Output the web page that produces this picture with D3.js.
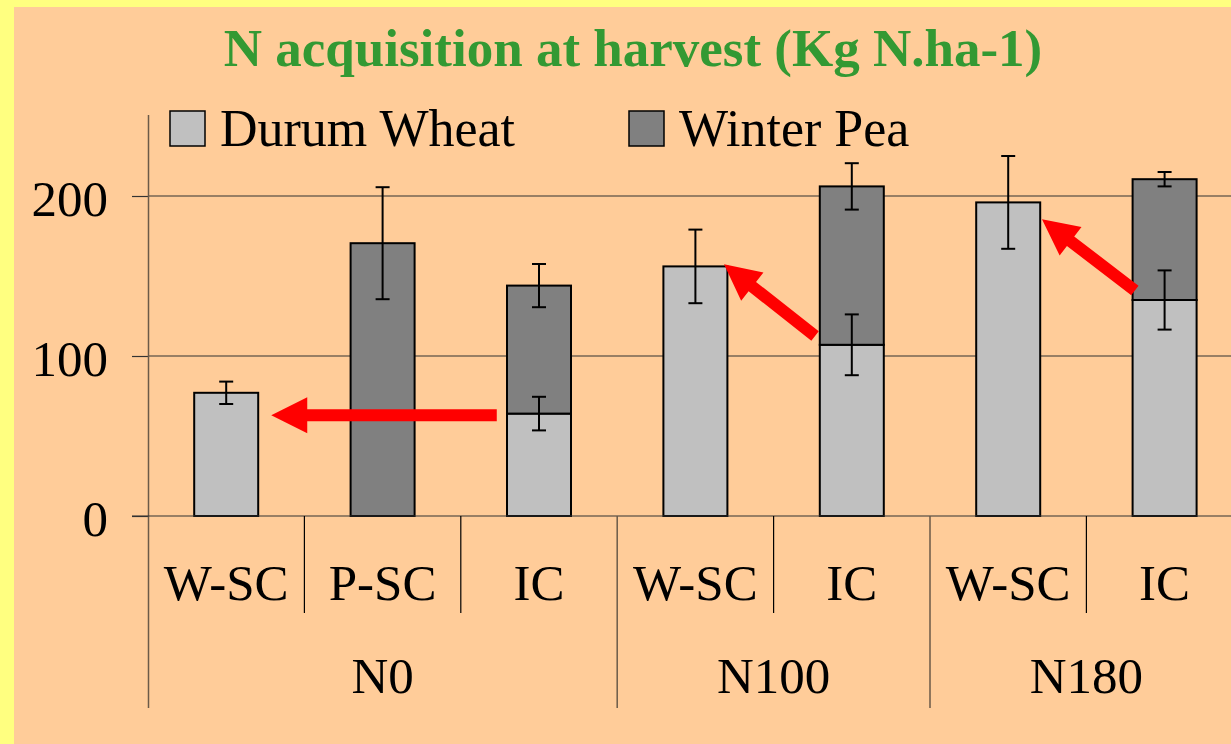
<!DOCTYPE html>
<html>
<head>
<meta charset="utf-8">
<script src="https://cdn.jsdelivr.net/npm/d3@7"></script>
<style>
  body{margin:0;background:#ffff80;}
  svg{display:block;}
  text{font-family:"Liberation Serif","Times New Roman",serif;fill:#000;}
</style>
</head>
<body>
<svg id="chart" width="1231" height="744"></svg>
<script>
// chart values
const title="N acquisition at harvest (Kg N.ha-1)";
const groups=["N0","N100","N180"];
const treatments=["W-SC","P-SC","IC","W-SC","IC","W-SC","IC"];
const treatmentGroup=["N0","N0","N0","N100","N100","N180","N180"];
const wheat=[77,0,64,156,107,196,135];
const wheatErr=[7,null,10.5,23,19,29,18.5];
const pea=[0,170.5,80,0,99,0,75.5];
const peaErr=[null,35,13.5,null,14.5,null,4.5];
const yTicks=[0,100,200];
const seriesNames=["Durum Wheat","Winter Pea"];
const seriesColors=["#c0c0c0","#808080"];
// arrows: [treatment index, offset in steps, value]
const arrowFrom=[[2,-0.27,63],[4,-0.235,112.5],[6,-0.19,141]];
const arrowTo=[[0,0.288,63],[3,0.183,157.3],[5,0.216,185.4]];

const serif="'Liberation Serif','Times New Roman',serif";
const svg=d3.select("#chart");
const W=1231,H=744;

svg.append("rect")
  .attr("x",14).attr("y",7)
  .attr("width",W-14).attr("height",H-7)
  .attr("fill","#ffcc99");

const x=d3.scaleBand()
  .domain(d3.range(treatments.length))
  .range([148,148+7*156.4])
  .padding(0);
const y=d3.scaleLinear().domain([0,250]).range([516,116]);
const barW=64;

// title
svg.append("text")
  .attr("x",633).attr("y",66)
  .attr("text-anchor","middle")
  .style("font-family",serif)
  .style("font-size","53px")
  .style("font-weight","bold")
  .style("fill","#339933")
  .text(title);

// gridlines
svg.append("g")
  .selectAll("line")
  .data(yTicks.filter(t=>t>0))
  .enter()
    .append("line")
    .attr("x1",148).attr("x2",x.range()[1])
    .attr("y1",d=>y(d)).attr("y2",d=>y(d))
    .attr("stroke","#333").attr("stroke-width",1.2);

// bars
const rows=treatments.map((t,i)=>({i:i,wheat:wheat[i],pea:pea[i]}));
const stacked=d3.stack().keys(["wheat","pea"])(rows);

stacked.forEach((layer,k)=>{
  svg.append("g")
    .selectAll("rect")
    .data(layer.filter(d=>d[1]-d[0]>0))
    .enter()
      .append("rect")
      .attr("x",d=>x(d.data.i)+x.bandwidth()/2-barW/2)
      .attr("y",d=>y(d[1]))
      .attr("width",barW)
      .attr("height",d=>y(d[0])-y(d[1]))
      .attr("fill",seriesColors[k])
      .attr("stroke","#000")
      .attr("stroke-width",2);
});

// error bars
const errs=[];
treatments.forEach((t,i)=>{
  if(wheatErr[i]!=null) errs.push({i:i,v:wheat[i],e:wheatErr[i]});
  if(peaErr[i]!=null) errs.push({i:i,v:wheat[i]+pea[i],e:peaErr[i]});
});
const eg=svg.append("g").attr("stroke","#000").attr("stroke-width",2);
const cx=i=>x(i)+x.bandwidth()/2;
eg.selectAll(".stem").data(errs).enter().append("line")
  .attr("x1",d=>cx(d.i)).attr("x2",d=>cx(d.i))
  .attr("y1",d=>y(d.v+d.e)).attr("y2",d=>y(d.v-d.e));
eg.selectAll(".capT").data(errs).enter().append("line")
  .attr("x1",d=>cx(d.i)-7).attr("x2",d=>cx(d.i)+7)
  .attr("y1",d=>y(d.v+d.e)).attr("y2",d=>y(d.v+d.e));
eg.selectAll(".capB").data(errs).enter().append("line")
  .attr("x1",d=>cx(d.i)-7).attr("x2",d=>cx(d.i)+7)
  .attr("y1",d=>y(d.v-d.e)).attr("y2",d=>y(d.v-d.e));

// y axis
const yAxis=svg.append("g")
  .attr("transform","translate(148,0)")
  .call(d3.axisLeft(y).tickValues(yTicks).tickSize(16).tickPadding(24).tickSizeOuter(0));
yAxis.select(".domain").remove();
yAxis.selectAll(".tick line").attr("stroke","#333").attr("stroke-width",1.2);
yAxis.selectAll(".tick text")
  .attr("dy","0.38em")
  .style("font-size","51px")
  .style("font-family",serif);
svg.append("line")
  .attr("x1",148.5).attr("x2",148.5)
  .attr("y1",y(250)-1).attr("y2",708)
  .attr("stroke","#6b5a48").attr("stroke-width",1.5);
svg.append("line")
  .attr("x1",132).attr("x2",x.range()[1])
  .attr("y1",516).attr("y2",516)
  .attr("stroke","#333").attr("stroke-width",1.2);

// category axis
const sepIdx=d3.range(1,treatments.length+1);
const isGroupSep=d=>d<treatments.length&&treatmentGroup[d]!==treatmentGroup[d-1];
svg.append("g")
  .selectAll("line")
  .data(sepIdx)
  .enter()
    .append("line")
    .attr("x1",d=>x.range()[0]+d*x.step())
    .attr("x2",d=>x.range()[0]+d*x.step())
    .attr("y1",516)
    .attr("y2",d=>isGroupSep(d)?708:613)
    .attr("stroke",d=>isGroupSep(d)?"#6b5a48":"#000")
    .attr("stroke-width",d=>isGroupSep(d)?1.5:1.2);

svg.append("g")
  .selectAll("text")
  .data(treatments)
  .enter()
    .append("text")
    .attr("x",(d,i)=>cx(i))
    .attr("y",600)
    .attr("text-anchor","middle")
    .style("font-family",serif)
    .style("font-size","51px")
    .text(d=>d);

svg.append("g")
  .selectAll("text")
  .data(groups)
  .enter()
    .append("text")
    .attr("x",g=>{
      let idx=d3.range(treatments.length).filter(i=>treatmentGroup[i]===g);
      return (x(idx[0])+x(idx[idx.length-1])+x.bandwidth())/2;
    })
    .attr("y",693)
    .attr("text-anchor","middle")
    .style("font-family",serif)
    .style("font-size","51px")
    .text(d=>d);

// legend
const legX=[170,629];
const leg=svg.append("g")
  .selectAll("g")
  .data(seriesNames)
  .enter()
    .append("g")
    .attr("transform",(d,i)=>`translate(${legX[i]},111)`);
leg.append("rect")
  .attr("width",35).attr("height",35)
  .attr("fill",(d,i)=>seriesColors[i])
  .attr("stroke","#000").attr("stroke-width",1.5);
leg.append("text")
  .attr("x",50).attr("y",35)
  .style("font-family",serif)
  .style("font-size","52px")
  .text(d=>d);

// red arrows
const pt=a=>[x(a[0])+x.bandwidth()/2+a[1]*x.step(),y(a[2])];
const arrowPath=(from,to)=>{
  let [x0,y0]=pt(from),[x1,y1]=pt(to);
  let dx=x1-x0,dy=y1-y0,len=Math.hypot(dx,dy);
  let ux=dx/len,uy=dy/len,nx=-uy,ny=ux;
  let hl=36,hw=18,sw=6;
  let bx=x1-ux*hl,by=y1-uy*hl;
  let p=[
    [x0+nx*sw,y0+ny*sw],[bx+nx*sw,by+ny*sw],[bx+nx*hw,by+ny*hw],
    [x1,y1],
    [bx-nx*hw,by-ny*hw],[bx-nx*sw,by-ny*sw],[x0-nx*sw,y0-ny*sw]
  ];
  return "M"+p.map(q=>q.join(",")).join("L")+"Z";
};
svg.append("g")
  .selectAll("path")
  .data(arrowFrom.map((f,i)=>[f,arrowTo[i]]))
  .enter()
    .append("path")
    .attr("d",d=>arrowPath(d[0],d[1]))
    .attr("fill","#ff0000");
</script>
</body>
</html>
